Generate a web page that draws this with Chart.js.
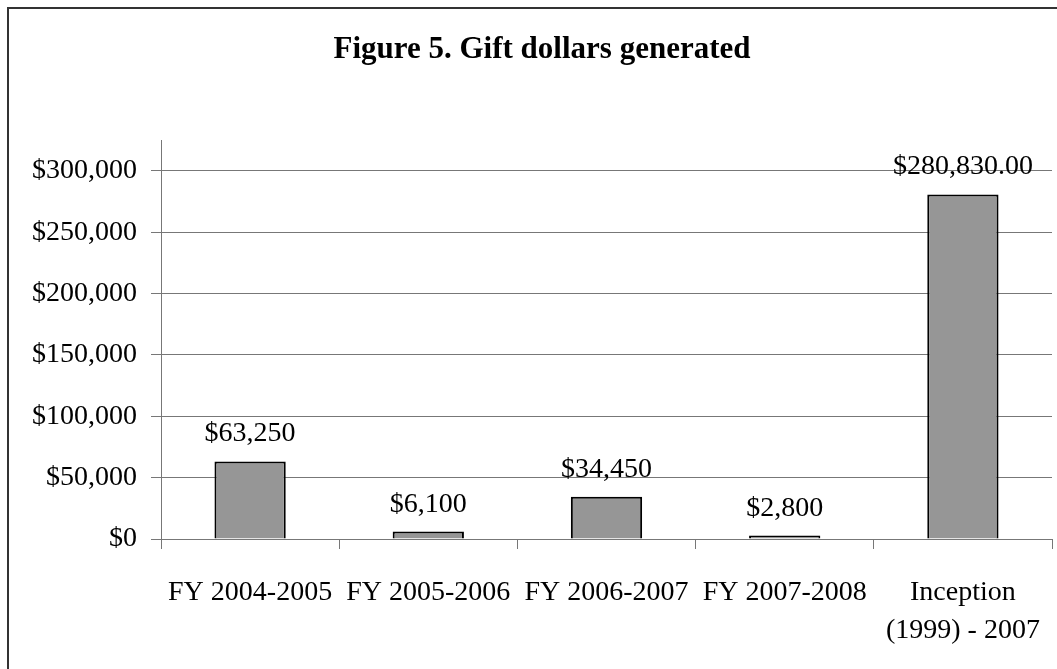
<!DOCTYPE html>
<html>
<head>
<meta charset="utf-8">
<title>Figure 5. Gift dollars generated</title>
<script src="https://cdn.jsdelivr.net/npm/chart.js@4.4.1/dist/chart.umd.min.js"></script>
<style>
  html, body { margin: 0; padding: 0; background: #fff; }
  #wrap { width: 1057px; height: 669px; }
</style>
</head>
<body>
<div id="wrap"><canvas id="js--chart" width="1057" height="669"></canvas></div>
<script>
// data
const categories = [
  'FY 2004-2005',
  'FY 2005-2006',
  'FY 2006-2007',
  'FY 2007-2008',
  ['Inception', '(1999) - 2007']
];
const giftDollars = [63250, 6100, 34450, 2800, 280830];
const valueLabels = ['$63,250', '$6,100', '$34,450', '$2,800', '$280,830.00'];
const yTicks = [0, 50000, 100000, 150000, 200000, 250000, 300000];

const serif = "'Liberation Serif', 'Times New Roman', serif";

// white page + the frame round the chart (right/bottom run off the picture)
const framePlugin = {
  id: 'frame',
  beforeDraw(chart) {
    const ctx = chart.ctx;
    ctx.save();
    ctx.fillStyle = '#fff';
    ctx.fillRect(0, 0, chart.width, chart.height);
    ctx.strokeStyle = '#333';
    ctx.lineWidth = 2;
    ctx.strokeRect(8, 8, chart.width + 40, chart.height + 40);
    ctx.restore();
  }
};

// value labels above the bars
const barLabels = {
  id: 'barLabels',
  afterDatasetsDraw(chart) {
    const ctx = chart.ctx;
    const meta = chart.getDatasetMeta(0);
    ctx.save();
    ctx.font = '28px ' + serif;
    ctx.fillStyle = '#000';
    ctx.textAlign = 'center';
    ctx.textBaseline = 'alphabetic';
    meta.data.forEach(function(bar, i) {
      ctx.fillText(valueLabels[i], bar.x, bar.y - 20);
    });
    ctx.restore();
  }
};

const data = {
  labels: categories,
  datasets: [{
    label: 'Gift dollars generated',
    data: giftDollars,
    backgroundColor: '#969696',
    borderColor: '#000',
    borderWidth: 2,
    barPercentage: 0.4,
    categoryPercentage: 1
  }]
};

const config = {
  type: 'bar',
  data: data,
  options: {
    responsive: false,
    animation: false,
    layout: { padding: { left: 32, right: 5, top: 0, bottom: 0 } },
    plugins: {
      legend: { display: false },
      tooltip: { enabled: false },
      title: {
        display: true,
        text: 'Figure 5. Gift dollars generated',
        color: '#000',
        font: { family: serif, size: 31, weight: 'bold', lineHeight: 1.2 },
        padding: { top: 31, bottom: 72 }
      }
    },
    scales: {
      x: {
        grid: {
          display: true,
          drawOnChartArea: false,
          drawTicks: true,
          tickLength: 10,
          color: '#777'
        },
        border: { display: true, color: '#777', width: 1 },
        ticks: {
          color: '#000',
          font: { family: serif, size: 28, lineHeight: 1.36 },
          padding: 25,
          maxRotation: 0,
          autoSkip: false
        },
        afterFit(scale) {
          scale.height = 130;
          // labels fit inside their categories, no extra side room needed
          scale.paddingLeft = 0;
          scale.paddingRight = 0;
        }
      },
      y: {
        min: 0,
        max: 325000,
        afterBuildTicks(scale) {
          scale.ticks = yTicks.map(function(v) { return { value: v }; });
        },
        grid: {
          color: '#777',
          lineWidth: 1,
          tickLength: 10
        },
        border: { display: true, color: '#777', width: 1 },
        ticks: {
          color: '#000',
          font: { family: serif, size: 28 },
          padding: 14,
          callback: function(value) {
            return '$' + Number(value).toLocaleString('en-US');
          }
        },
        afterFit(scale) { scale.width = 129; }
      }
    }
  },
  plugins: [framePlugin, barLabels]
};

const myChart = new Chart(document.getElementById('js--chart'), config);
</script>
</body>
</html>
